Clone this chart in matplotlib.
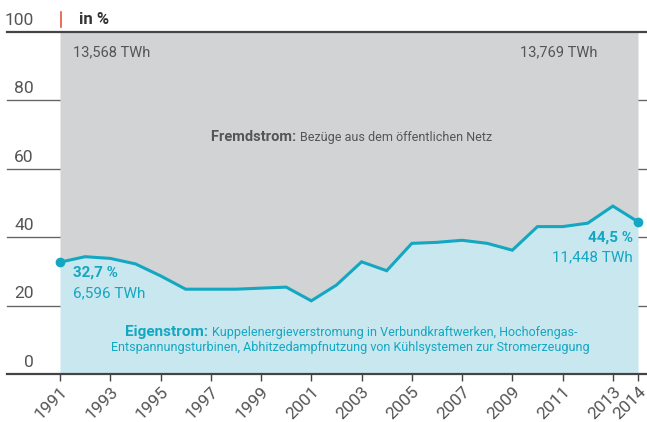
import matplotlib.pyplot as plt
import numpy as np

plt.rcParams['font.family'] = ['Roboto', 'DejaVu Sans']

# data
years = np.arange(1991, 2015)
eigen_share = [32.7, 34.3, 33.8, 32.2, 28.7, 24.8, 24.8, 24.8, 25.1, 25.4,
               21.4, 26.0, 32.8, 30.2, 38.2, 38.5, 39.1, 38.2, 36.2, 43.1,
               43.1, 44.1, 49.1, 44.5]
tick_years = [1991, 1993, 1995, 1997, 1999, 2001, 2003, 2005, 2007, 2009,
              2011, 2013, 2014]
y_ticks = [0, 20, 40, 60, 80, 100]

GRAY = '#d1d3d4'
LIGHTBLUE = '#c9e7ef'
TEAL = '#13a7c2'
TEXT = '#555555'
GRID = '#666666'

W, H = 647, 422
fig = plt.figure(figsize=(W / 100, H / 100), dpi=100)
# axes in pixel box: x 60..638, y 32..374
ax = fig.add_axes([60 / W, 1 - 374 / H, 578 / W, 342 / H])
ax.set_xlim(1991, 2014)
ax.set_ylim(0, 100)
for s in ax.spines.values():
    s.set_visible(False)
ax.set_yticks([])

# gridlines that run across the whole width, hidden behind the fills
x0 = (7 - 60) / 578
x1 = (647 - 60) / 578
for v in y_ticks:
    dark = v in (0, 100)
    ax.axhline(v, xmin=x0, xmax=x1, color='#444444' if dark else GRID,
               lw=1.6 if dark else 1.0, clip_on=False, zorder=5 if dark else 0)
    ax.annotate(str(v), xy=(0, v), xycoords=('axes fraction', 'data'),
                xytext=(-19, 3), textcoords='offset points', ha='right',
                va='bottom', fontsize=12.5, color=TEXT, annotation_clip=False)

ax.fill_between(years, eigen_share, 100, color=GRAY, lw=0, zorder=1)
ax.fill_between(years, 0, eigen_share, color=LIGHTBLUE, lw=0, zorder=1)
ax.plot(years, eigen_share, color=TEAL, lw=2.2, zorder=3, solid_joinstyle='miter')
ax.plot([years[0], years[-1]], [eigen_share[0], eigen_share[-1]], 'o',
        color=TEAL, ms=6, zorder=4, clip_on=False)

ax.set_xticks(tick_years)
ax.set_xticklabels([str(y) for y in tick_years], rotation=45, ha='right',
                   rotation_mode='anchor', fontsize=12.5, color=TEXT)
ax.tick_params(axis='x', length=5, width=1, color='#444444', pad=2)

# header
fig.text(79 / W, 1 - 19 / H, 'in %', fontsize=12, fontweight='bold',
         color='#333333', va='center')
fig.add_artist(plt.Line2D([61 / W, 61 / W], [1 - 27 / H, 1 - 12 / H],
                          color='#e8553f', lw=1.2))

# annotations
ax.text(1991.5, 94, '13,568 TWh', fontsize=10.5, color=TEXT, va='center')
ax.text(2012.4, 94, '13,769 TWh', fontsize=10.5, color=TEXT, va='center',
        ha='right')

t = ax.text(1997.0, 68, 'Fremdstrom: ', fontsize=10.5, fontweight='bold',
            color=TEXT, va='baseline')
ax.annotate('Bezüge aus dem öffentlichen Netz', xy=(1, 0), xycoords=t,
            va='bottom', fontsize=9, color=TEXT)

ax.text(1991.5, 29.7, '32,7 %', fontsize=11, fontweight='bold', color=TEAL,
        va='center')
ax.text(1991.5, 23.5, '6,596 TWh', fontsize=11, color=TEAL, va='center')
ax.text(2013.8, 40, '44,5 %', fontsize=11, fontweight='bold', color=TEAL,
        va='center', ha='right')
ax.text(2013.8, 34, '11,448 TWh', fontsize=11, color=TEAL, va='center',
        ha='right')

e = ax.text(1993.6, 11.2, 'Eigenstrom: ', fontsize=11, fontweight='bold',
            color=TEAL, va='baseline')
ax.annotate('Kuppelenergieverstromung in Verbundkraftwerken, Hochofengas-',
            xy=(1, 0), xycoords=e, va='bottom', fontsize=9, color=TEAL)
ax.text(2002.55, 7.7, 'Entspannungsturbinen, Abhitzedampfnutzung von Kühlsystemen zur Stromerzeugung',
        fontsize=9, color=TEAL, va='center', ha='center')

fig.savefig('out.png', dpi=100)
